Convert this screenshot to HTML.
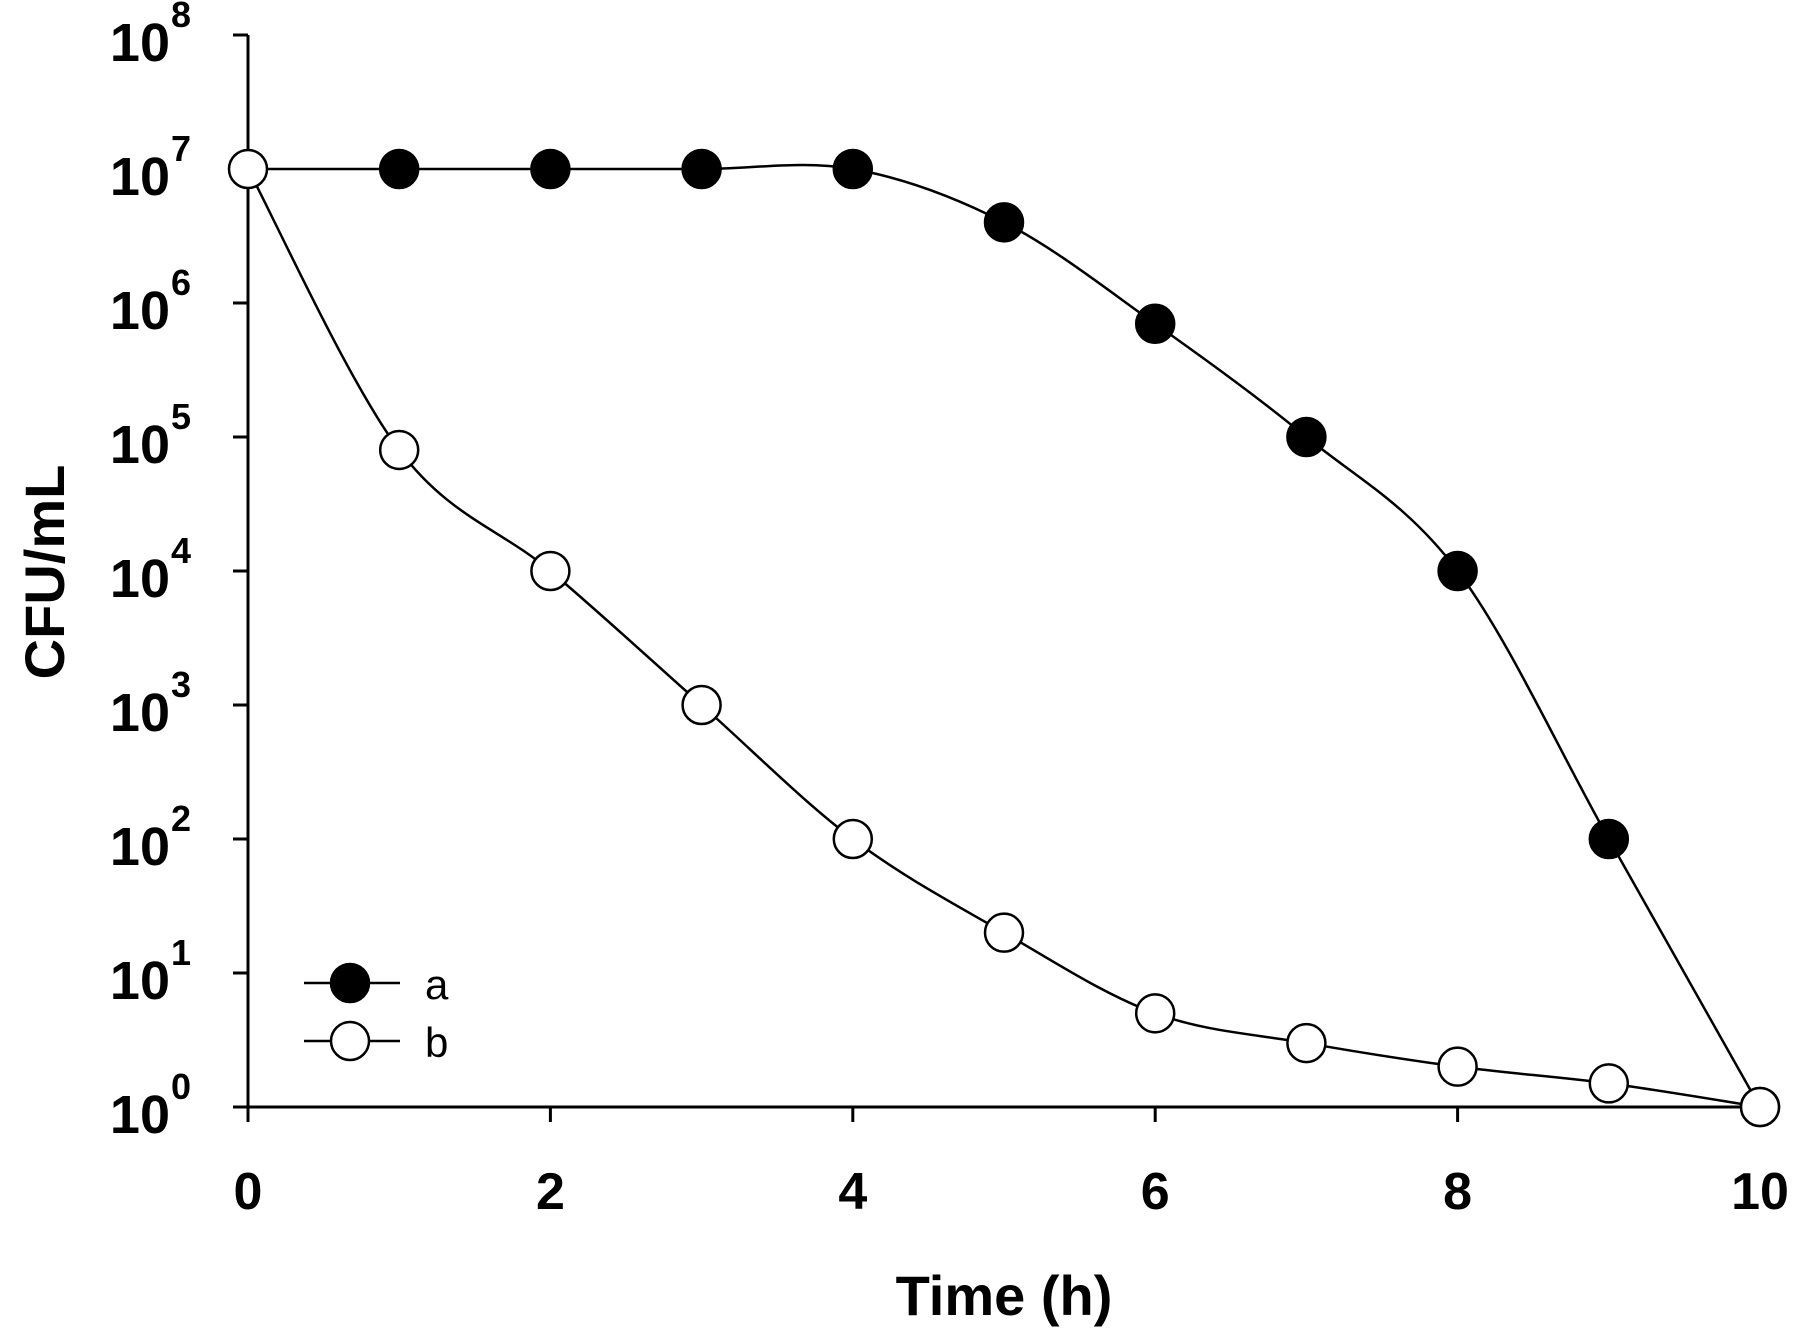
<!DOCTYPE html>
<html><head><meta charset="utf-8"><style>
body{margin:0;background:#fff}
svg{display:block;font-family:"Liberation Sans",Arial,sans-serif}
</style></head><body>
<svg id="chart" width="1806" height="1340" viewBox="0 0 1806 1340">
<g id="axes"></g>
<g id="series"></g>
<text x="1004" y="1315" font-size="56" font-weight="bold" text-anchor="middle">Time (h)</text>
<text transform="translate(64,572) rotate(-90)" font-size="56" font-weight="bold" text-anchor="middle">CFU/mL</text>
<g>
<g>
<line x1="304" y1="983" x2="400" y2="983" stroke="#000" stroke-width="2.5"/>
<circle cx="350" cy="983" r="19" fill="#000" stroke="#000" stroke-width="2.5"/>
<text x="425" y="999" font-size="42">a</text></g>
<g>
<line x1="304" y1="1041" x2="400" y2="1041" stroke="#000" stroke-width="2.5"/>
<circle cx="350" cy="1041" r="19" fill="#fff" stroke="#000" stroke-width="2.5"/>
<text x="425" y="1057" font-size="42">b</text></g>
</g>
</svg>
<script>
const times=[0,1,2,3,4,5,6,7,8,9,10];
const seriesA=[1e7,1e7,1e7,1e7,1e7,4e6,7e5,1e5,1e4,100,1];
const seriesB=[1e7,8e4,1e4,1e3,100,20,5,3,2,1.5,1];
const xTicks=[0,2,4,6,8,10];
const yExps=[0,1,2,3,4,5,6,7,8];
const NS="http://www.w3.org/2000/svg";
const X0=248,X1=1760,Y0=1107,DEC=134;
function xs(t){return X0+(X1-X0)*t/10;}
function ys(v){return Y0-DEC*Math.log10(v);}
function mk(tag,attrs,parent){const e=document.createElementNS(NS,tag);for(const k in attrs)e.setAttribute(k,attrs[k]);parent.appendChild(e);return e;}
const ax=document.getElementById('axes');
let l=mk('line',{x1:X0,y1:Y0,x2:X1,y2:Y0,stroke:'#000','stroke-width':3},ax);


l=mk('line',{x1:X0,y1:Y0,x2:X0,y2:ys(1e8),stroke:'#000','stroke-width':3},ax);


xTicks.forEach(t=>{
 const tk=mk('line',{x1:xs(t),y1:Y0,x2:xs(t),y2:Y0+15,stroke:'#000','stroke-width':3},ax);
 
 
 const tx=mk('text',{x:xs(t),y:1209,'font-size':52,'font-weight':'bold','text-anchor':'middle'},ax);
 tx.textContent=t;
 
 
});
yExps.forEach(e=>{
 const y=Y0-DEC*e;
 const tk=mk('line',{x1:X0-15,y1:y,x2:X0,y2:y,stroke:'#000','stroke-width':3},ax);
 
 
 const tx=mk('text',{x:170,y:y+26,'font-size':54,'font-weight':'bold','text-anchor':'end'},ax);
 tx.textContent='10';
 
 
 const sp=mk('text',{x:171,y:y-8,'font-size':36,'font-weight':'bold'},ax);
 sp.textContent=e;
 
 
});
function smooth(pts){
 let d='M'+pts[0][0]+','+pts[0][1];
 for(let i=0;i<pts.length-1;i++){
  const p0=pts[Math.max(0,i-1)],p1=pts[i],p2=pts[i+1],p3=pts[Math.min(pts.length-1,i+2)];
  const c1=[p1[0]+(p2[0]-p0[0])/6,p1[1]+(p2[1]-p0[1])/6];
  const c2=[p2[0]-(p3[0]-p1[0])/6,p2[1]-(p3[1]-p1[1])/6];
  d+=' C'+c1+' '+c2+' '+p2;
 }
 return d;
}
const sg=document.getElementById('series');
[[seriesA,'#000','a'],[seriesB,'#fff','b']].forEach(([vals,fill,nm])=>{
 const pts=times.map((t,i)=>[xs(t),ys(vals[i])]);
 const p=mk('path',{d:smooth(pts),fill:'none',stroke:'#000','stroke-width':2.5},sg);
 
 
});
[[seriesA,'#000','a'],[seriesB,'#fff','b']].forEach(([vals,fill,nm])=>{
 times.forEach((t,i)=>{
  if(nm==='a'&&i===0)return;
  const c=mk('circle',{cx:xs(t),cy:ys(vals[i]),r:19,fill:fill,stroke:'#000','stroke-width':2.5},sg);
  
  
 });
});
</script>
</body></html>
